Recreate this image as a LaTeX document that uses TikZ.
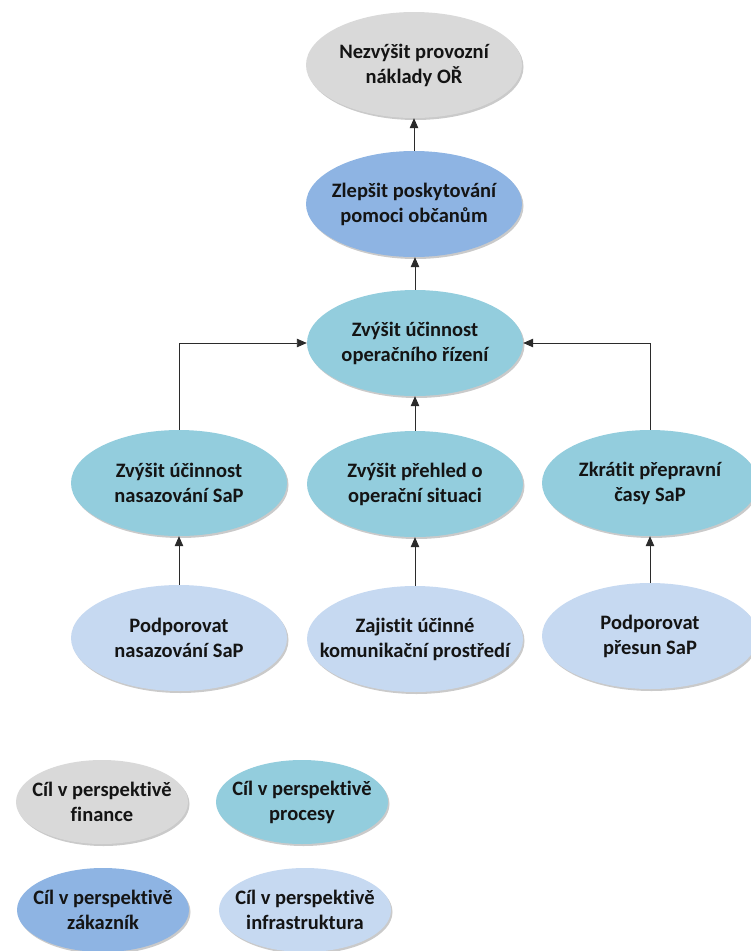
\documentclass[tikz,border=0pt]{standalone}
\usepackage{fontspec}
\setmainfont[Ligatures=NoCommon]{Carlito}
\usetikzlibrary{shapes.geometric,arrows.meta,shadows}

\definecolor{finc}{HTML}{D9D9D9}
\definecolor{custc}{HTML}{8EB4E3}
\definecolor{procc}{HTML}{93CDDD}
\definecolor{infc}{HTML}{C6D9F1}
\definecolor{txtc}{HTML}{141414}
\definecolor{linec}{HTML}{2B2B2B}

% negative horizontal inner sep keeps the ellipse at its minimum size
% even when the label is wide
\tikzset{
  goal/.style={ellipse, inner xsep=-30pt, inner ysep=0pt,
    minimum width=216pt, minimum height=106pt,
    align=center, text=txtc, font=\bfseries\fontsize{20.5}{25}\selectfont,
    drop shadow={shadow xshift=1.5pt, shadow yshift=-2pt, opacity=0.35, fill=black!60}},
  legendgoal/.style={goal, minimum width=172pt, minimum height=84pt},
  fin/.style={fill=finc},
  cust/.style={fill=custc},
  proc/.style={fill=procc},
  infra/.style={fill=infc},
  link/.style={draw=linec, line width=0.9pt, -{Triangle[length=10pt,width=8.5pt]}}
}

\begin{document}
\begin{tikzpicture}[x=1pt,y=-1pt]
  \useasboundingbox (0,0) rectangle (751,951);

  % strategy map
  \node[goal,fin]   (fn) at (414,65)  {Nezvýšit provozní\\náklady OŘ};
  \node[goal,cust]  (cu) at (414,204) {Zlepšit poskytování\\pomoci občanům};
  \node[goal,proc]  (op) at (415,343) {Zvýšit účinnost\\operačního řízení};

  \node[goal,proc]  (p1) at (179,483) {Zvýšit účinnost\\nasazování SaP};
  \node[goal,proc]  (p2) at (415,484) {Zvýšit přehled o\\operační situaci};
  \node[goal,proc]  (p3) at (650,483) {Zkrátit přepravní\\časy SaP};

  \node[goal,infra] (i1) at (179,638) {Podporovat\\nasazování SaP};
  \node[goal,infra] (i2) at (415,639) {Zajistit účinné\\komunikační prostředí};
  \node[goal,infra] (i3) at (650,636) {Podporovat\\přesun SaP};

  % cause-effect links
  \draw[link] (cu) -- (fn);
  \draw[link] (op.north) -- (op.north |- cu.south);
  \draw[link] (p2) -- (op);
  \draw[link] (p1.north) |- (op.west);
  \draw[link] (p3.north) |- (op.east);
  \draw[link] (i1) -- (p1);
  \draw[link] (i2) -- (p2);
  \draw[link] (i3) -- (p3);

  % legend
  \node[legendgoal,fin]   (lf) at (102,802) {Cíl v perspektivě\\finance};
  \node[legendgoal,proc]  (lp) at (302,802) {Cíl v perspektivě\\procesy};
  \node[legendgoal,cust]  (lc) at (103,910) {Cíl v perspektivě\\zákazník};
  \node[legendgoal,infra] (li) at (305,910) {Cíl v perspektivě\\infrastruktura};
\end{tikzpicture}
\end{document}
